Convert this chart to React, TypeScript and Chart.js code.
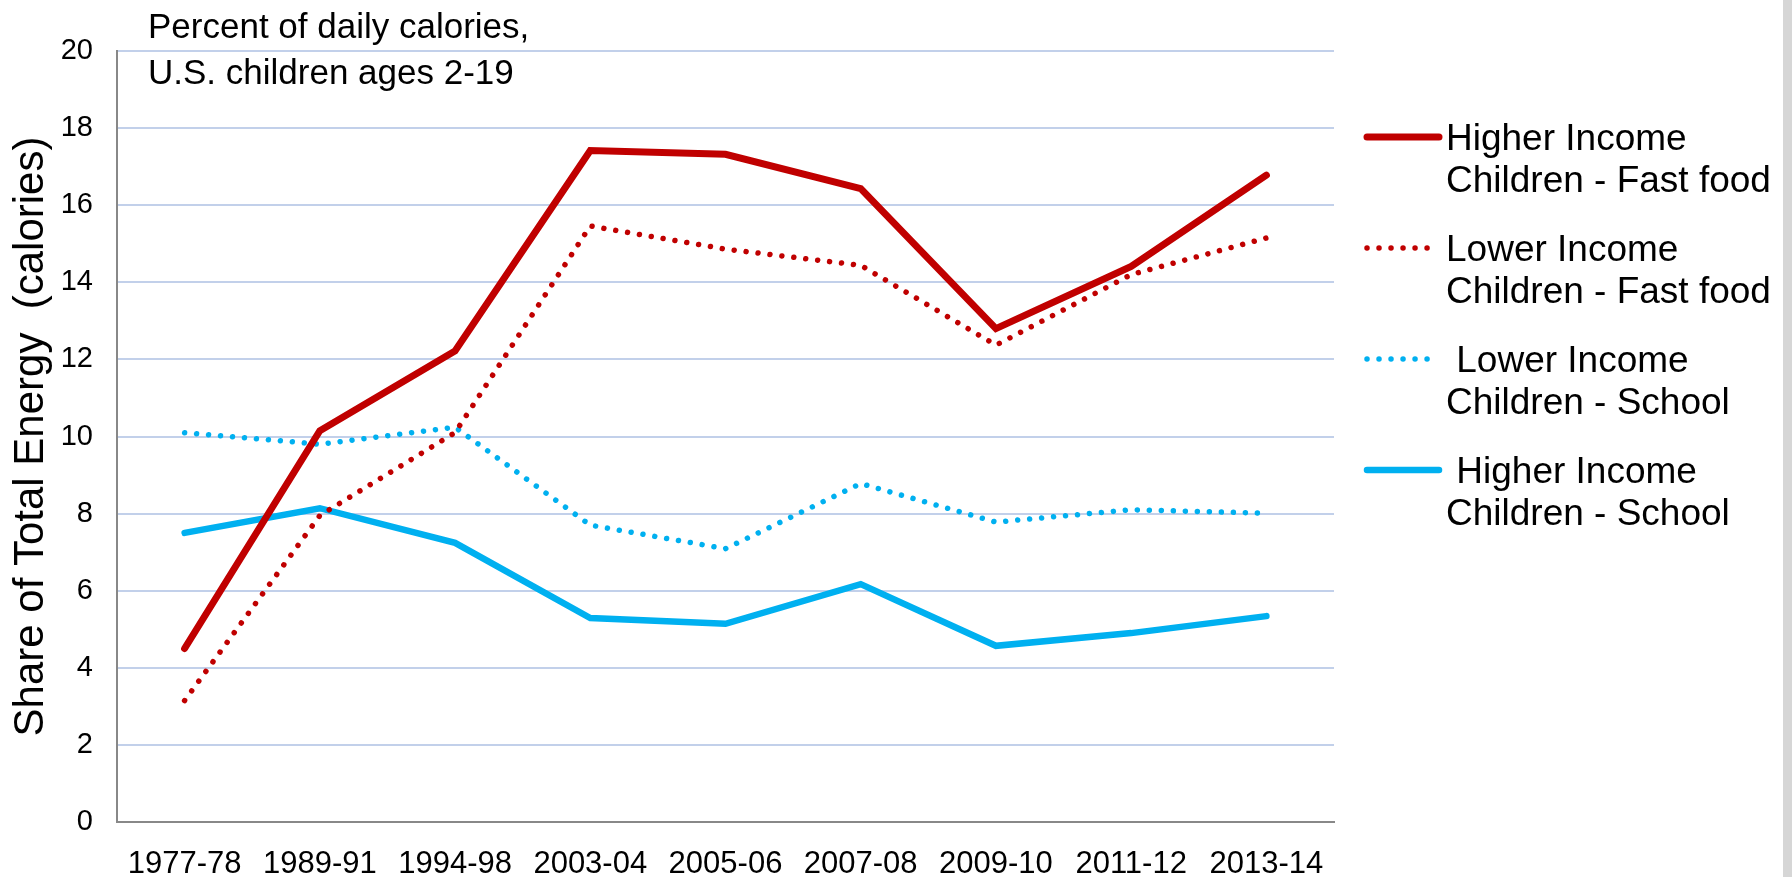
import React, { useEffect, useRef } from "react";
import { Chart, registerables } from "chart.js";

Chart.register(...registerables);

const categories = ["1977-78", "1989-91", "1994-98", "2003-04", "2005-06", "2007-08", "2009-10", "2011-12", "2013-14"];
const higherFastFood = [4.5, 10.15, 12.22, 17.42, 17.32, 16.43, 12.8, 14.41, 16.78];
const lowerFastFood = [3.15, 7.95, 10.1, 15.46, 14.86, 14.44, 12.37, 14.2, 15.15];
const lowerSchool = [10.1, 9.8, 10.24, 7.7, 7.09, 8.78, 7.78, 8.1, 8.01];
const higherSchool = [7.5, 8.14, 7.24, 5.29, 5.14, 6.17, 4.57, 4.9, 5.34];
const legendLabels = [
  ["Higher Income", "Children - Fast food"],
  ["Lower Income", "Children - Fast food"],
  [" Lower Income", "Children - School"],
  [" Higher Income", "Children - School"],
];
const titleLines = ["Percent of daily calories,", "U.S. children ages 2-19"];
const yTitle = "Share of Total Energy  (calories)";

const RED = "#C00000";
const BLUE = "#00B0F0";
const FONT = "'Liberation Sans', Arial, Helvetica, sans-serif";

const overlayPlugin = {
  id: "overlay",
  beforeDraw(chart: any) {
    const ctx = chart.ctx;
    ctx.save();
    ctx.fillStyle = "#d6d6d6";
    ctx.fillRect(1783, 0, 9, chart.height);
    ctx.restore();
  },
  afterDraw(chart: any) {
    const ctx = chart.ctx;
    const area = chart.chartArea;
    ctx.save();
    // in-plot title
    ctx.fillStyle = "#000";
    ctx.font = `35px ${FONT}`;
    ctx.textBaseline = "alphabetic";
    ctx.textAlign = "left";
    titleLines.forEach((t, i) => ctx.fillText(t, area.left + 31, 38 + i * 46));
    // legend
    const sampleX0 = area.right + 33;
    const sampleX1 = area.right + 105;
    const textX = area.right + 112;
    chart.data.datasets.forEach((ds: any, i: number) => {
      const y0 = 150 + i * 111;
      const sy = y0 - 13;
      ctx.save();
      ctx.strokeStyle = ds.borderColor;
      ctx.lineWidth = ds.borderWidth;
      ctx.lineCap = ds.borderCapStyle || "butt";
      ctx.setLineDash(ds.borderDash || []);
      ctx.beginPath();
      ctx.moveTo(sampleX0, sy);
      ctx.lineTo(sampleX1, sy);
      ctx.stroke();
      ctx.restore();
      ctx.fillStyle = "#000";
      ctx.font = `37px ${FONT}`;
      const lines = legendLabels[i];
      lines.forEach((l, j) => ctx.fillText(l, textX, y0 + j * 42));
    });
    ctx.restore();
  },
};

export default function App() {
  const ref = useRef<HTMLCanvasElement | null>(null);
  useEffect(() => {
    if (!ref.current) return;
    const chart = new Chart(ref.current, {
      type: "line",
      data: {
        labels: categories,
        datasets: [
          { label: "Higher Income Children - Fast food", data: higherFastFood, borderColor: RED, backgroundColor: RED, borderWidth: 7, pointRadius: 0, tension: 0, borderCapStyle: "round", borderJoinStyle: "miter" },
          { label: "Lower Income Children - Fast food", data: lowerFastFood, borderColor: RED, backgroundColor: RED, borderWidth: 5.5, pointRadius: 0, tension: 0, borderDash: [0.01, 12], borderCapStyle: "round" },
          { label: "Lower Income Children - School", data: lowerSchool, borderColor: BLUE, backgroundColor: BLUE, borderWidth: 5.5, pointRadius: 0, tension: 0, borderDash: [0.01, 12], borderCapStyle: "round" },
          { label: "Higher Income Children - School", data: higherSchool, borderColor: BLUE, backgroundColor: BLUE, borderWidth: 6.5, pointRadius: 0, tension: 0, borderCapStyle: "round", borderJoinStyle: "miter" },
        ] as any,
      },
      options: {
        animation: false,
        responsive: true,
        maintainAspectRatio: false,
        layout: { padding: { top: 51, right: 458, bottom: 0, left: 0 } },
        plugins: { legend: { display: false }, tooltip: { enabled: false }, title: { display: false } },
        scales: {
          x: {
            type: "category",
            offset: true,
            grid: { display: false, drawTicks: false },
            border: { display: true, color: "#888888", width: 2 },
            ticks: { color: "#000", font: { family: FONT, size: 31 }, maxRotation: 0, autoSkip: false, padding: 24 },
            afterFit: (s: any) => { s.height = 55; },
          },
          y: {
            min: 0,
            max: 20,
            grid: { color: "#c2d0ea", lineWidth: 2, drawTicks: false },
            border: { display: true, color: "#888888", width: 2 },
            ticks: { stepSize: 2, color: "#000", font: { family: FONT, size: 29 }, padding: 24 },
            title: { display: true, text: yTitle, color: "#000", font: { family: FONT, size: 42 }, padding: { top: 6, bottom: 0 } },
            afterFit: (s: any) => { s.width = 117; },
          },
        },
      } as any,
      plugins: [overlayPlugin],
    });
    return () => chart.destroy();
  }, []);
  return (
    <div style={{ position: "absolute", left: 0, top: 0, width: 1792, height: 877, background: "#fff" }}>
      <canvas ref={ref} />
    </div>
  );
}
